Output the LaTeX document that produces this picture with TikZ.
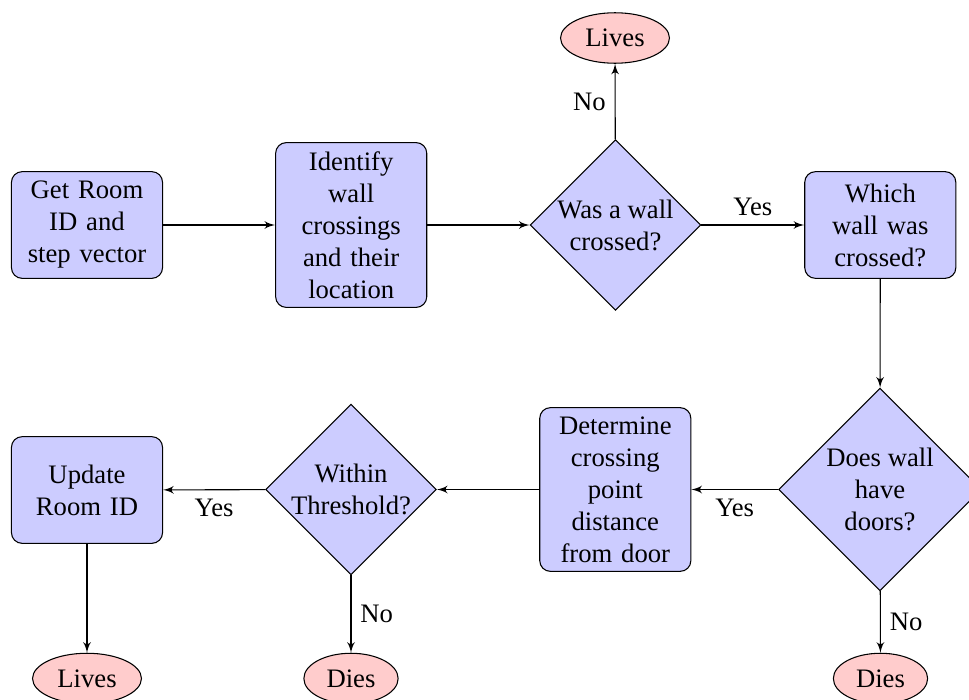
\documentclass[tikz,border=0pt]{standalone}
\usepackage{fontspec}
\setmainfont{Liberation Serif}
\usetikzlibrary{shapes.geometric,arrows}
\begin{document}
\begin{tikzpicture}[x=0.375pt,y=-0.375pt,
  block/.style={rectangle, draw, fill=blue!20, text width=5em, align=center, rounded corners, minimum height=4em},
  decision/.style={diamond, draw, fill=blue!20, text width=4.5em, align=flush center, inner sep=0pt},
  cloud/.style={ellipse, draw, fill=red!20},
  line/.style={draw, -latex'}]
\useasboundingbox (0,0) rectangle (969,700);
\clip (0,0) rectangle (969,700);
\node[block] (b1) at (87,225) {Get Room ID and step vector};
\node[block] (b2) at (351.2,225) {Identify wall crossings and their location};
\node[decision] (d1) at (615.5,225) {Was a wall crossed?};
\node[block] (b3) at (880.3,225) {Which wall was crossed?};
\node[cloud] (l1) at (615,38) {Lives};
\node[decision] (d2) at (880,489.5) {Does wall have doors?};
\node[block] (b4) at (615.3,489.5) {Determine crossing point distance from door};
\node[decision] (d3) at (351,489.5) {Within Threshold?};
\node[block] (b5) at (87,490) {Update Room ID};
\node[cloud] (l2) at (87,678.5) {Lives};
\node[cloud] (e2) at (351,678.5) {Dies};
\node[cloud] (e3) at (880.5,678.5) {Dies};
\path[line] (b1) -- (b2);
\path[line] (b2) -- (d1);
\path[line] (d1) -- node[above] {Yes} (b3);
\path[line] (d1) -- node[left] {No} (l1);
\path[line] (b3) -- (d2);
\path[line] (d2) -- node[below] {Yes} (b4);
\path[line] (d2) -- node[right] {No} (e3);
\path[line] (b4) -- (d3);
\path[line] (d3) -- node[below] {Yes} (b5);
\path[line] (d3) -- node[right] {No} (e2);
\path[line] (b5) -- (l2);
\end{tikzpicture}
\end{document}
